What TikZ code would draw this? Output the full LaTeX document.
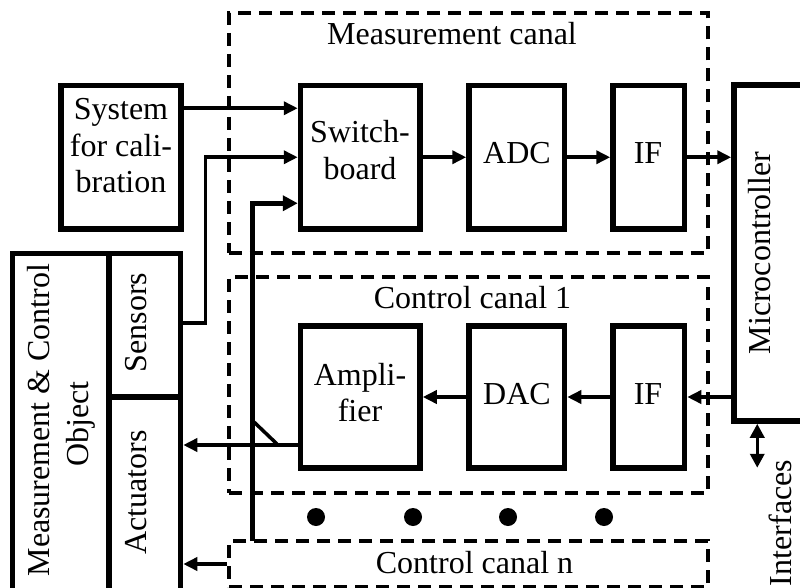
\documentclass[tikz,border=0pt]{standalone}
\usepackage{fontspec}
\setmainfont{Liberation Serif}
\usetikzlibrary{arrows.meta}
\begin{document}
\begin{tikzpicture}[x=1pt,y=-1pt,
  blk/.style={draw, line width=5.5pt, inner sep=0pt, rectangle},
  canal/.style={draw, line width=4pt, dash pattern=on 13pt off 8pt, inner sep=0pt, rectangle},
  conn/.style={line width=3.5pt},
  arr/.style={conn, -{Triangle[length=14pt,width=13pt]}},
  arrthick/.style={line width=5pt, -{Triangle[length=15pt,width=15pt]}},
  dbl/.style={conn, {Triangle[length=14pt,width=14pt]}-{Triangle[length=14pt,width=14pt]}},
  txt/.style={font=\fontsize{32}{37}\selectfont, inner sep=0pt, anchor=base},
  dotmark/.style={fill, circle, inner sep=0pt, minimum size=18pt}]
\useasboundingbox (0,0) rectangle (800,588);
\clip (0,0) rectangle (800,588);

% dashed canals
\node[canal, minimum width=479.3pt, minimum height=239.7pt] (mcan) at (468.35,133.15) {};
\node[canal, minimum width=479pt, minimum height=216pt] (cc1) at (468.5,385) {};
\node[canal, minimum width=479pt, minimum height=46pt] (ccn) at (468.5,564) {};

% blocks
\node[blk, minimum width=120pt, minimum height=143.5pt] (sys) at (121,157.25) {};
\node[blk, minimum width=119.5pt, minimum height=143.5pt] (sw) at (360.25,157.25) {};
\node[blk, minimum width=95.5pt, minimum height=143.5pt] (adc) at (516.75,157.25) {};
\node[blk, minimum width=71.5pt, minimum height=143.5pt] (if1) at (648.75,157.25) {};
\node[blk, minimum width=136pt, minimum height=336pt] (mc) at (802,253) {};
\node[blk, minimum width=119.5pt, minimum height=142pt] (amp) at (360.25,397) {};
\node[blk, minimum width=95.5pt, minimum height=142pt] (dac) at (516.75,397) {};
\node[blk, minimum width=71.5pt, minimum height=142pt] (if2) at (648.75,397) {};
\node[blk, minimum width=168pt, minimum height=366.7pt] (mco) at (96.5,436.65) {};
\node[blk, minimum width=71.5pt, minimum height=143.7pt] (sens) at (144.75,325.15) {};
\node[blk, minimum width=71.5pt, minimum height=223pt] (act) at (144.75,508.5) {};

% texts
\node[txt] (tmcan) at (452,45) {Measurement canal};
\node[txt] (tsys1) at (121,120) {System};
\node[txt] (tsys2) at (121,157) {for cali-};
\node[txt] (tsys3) at (121,193) {bration};
\node[txt] (tsw1) at (360,143) {Switch-};
\node[txt] (tsw2) at (360,180) {board};
\node[txt] (tadc) at (517,164) {ADC};
\node[txt] (tif1) at (648,164) {IF};
\node[txt] (tcc1) at (472.5,308) {Control canal 1};
\node[txt] (tamp1) at (360,385) {Ampli-};
\node[txt] (tamp2) at (360,421) {fier};
\node[txt] (tdac) at (517,404) {DAC};
\node[txt] (tif2) at (648,404) {IF};
\node[txt] (tccn) at (474.5,573) {Control canal n};
\node[txt, rotate=90] (tmc) at (770,253) {Microcontroller};
\node[txt, rotate=90] (tmco1) at (49.5,420) {Measurement \& Control};
\node[txt, rotate=90] (tmco2) at (88,424) {Object};
\node[txt, rotate=90] (tsens) at (146,322.5) {Sensors};
\node[txt, rotate=90] (tact) at (146,492.5) {Actuators};
\node[txt, rotate=90] (tint) at (791,523) {Interfaces};

% dots
\node[dotmark] (d1) at (316,517) {};
\node[dotmark] (d2) at (413,517) {};
\node[dotmark] (d3) at (508,517) {};
\node[dotmark] (d4) at (604,517) {};

% connectors
\draw[arr] ([yshift=49pt]sys.east) -- ([yshift=49pt]sw.west);
\draw[arr] ([yshift=2pt]sens.east) -- ++(22,0) |- (sw.west);
\coordinate (tap) at (252.5,541);
\draw[arrthick] (tap) |- ([yshift=-46pt]sw.west);
\draw[arr] (sw.east) -- (adc.west);
\draw[arr] (adc.east) -- (if1.west);
\draw[arr] (if1.east) -- (if1.east -| mc.west);
\draw[arr] (mc.west |- if2.east) -- (if2.east);
\draw[arr] (if2.west) -- (dac.east);
\draw[arr] (dac.west) -- (amp.east);
\draw[arr] ([yshift=-48pt]amp.west) -- ([yshift=-48pt]amp.west -| act.east);
\coordinate (diagA) at (254,422);
\coordinate (diagB) at (277,444);
\draw[conn] (diagA) -- (diagB);
\draw[arr] (ccn.west) -- (ccn.west -| act.east);
\draw[dbl] ([xshift=26pt]mc.south west) -- ++(0,44);
\end{tikzpicture}
\end{document}
